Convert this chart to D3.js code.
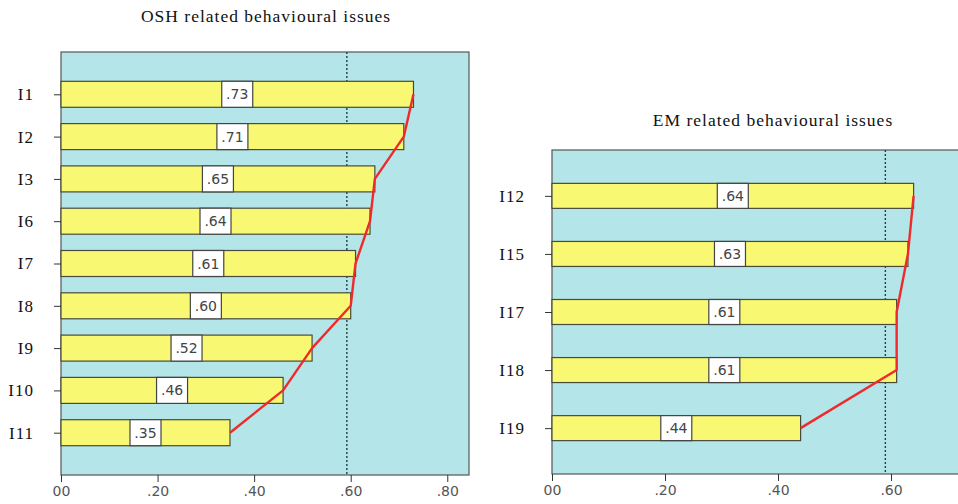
<!DOCTYPE html>
<html>
<head>
<meta charset="utf-8">
<script src="https://cdn.jsdelivr.net/npm/d3@7"></script>
<style>
  body { margin:0; background:#fff; }
  svg { display:block; }
  .item { font-family:"Liberation Serif","Times New Roman",serif; font-size:17px; fill:#111; letter-spacing:1px; }
  .title { font-family:"Liberation Serif","Times New Roman",serif; font-size:17.5px; fill:#111; letter-spacing:1px; }
  .tick-x { font-family:"DejaVu Sans",sans-serif; font-size:14px; fill:#555; }
  .val { font-family:"DejaVu Sans",sans-serif; font-size:14px; fill:#444; }
</style>
</head>
<body>
<svg id="chart" width="958" height="504"></svg>
<script>
// OSH panel
const oshItems = ["I1","I2","I3","I6","I7","I8","I9","I10","I11"];
const oshValues = [0.73,0.71,0.65,0.64,0.61,0.60,0.52,0.46,0.35];
const oshLabels = [".73",".71",".65",".64",".61",".60",".52",".46",".35"];
const oshTicks = [0,0.2,0.4,0.6,0.8];
const oshTickLabels = ["00",".20",".40",".60",".80"];
const oshCut = 0.592;

// EM panel
const emItems = ["I12","I15","I17","I18","I19"];
const emValues = [0.64,0.63,0.61,0.61,0.44];
const emLabels = [".64",".63",".61",".61",".44"];
const emTicks = [0,0.2,0.4,0.6];
const emTickLabels = ["00",".20",".40",".60"];
const emCut = 0.59;

const COLOR = {
  bg:"#b4e5e8",
  bar:"#f8f872",
  stroke:"#4a4a3a",
  line:"#f02a2a"
};

const svg = d3.select("#chart");

function panel(opt){
  const g = svg.append("g");
  const x = d3.scaleLinear().domain(opt.domain).range([opt.left, opt.right]);
  const y = d3.scalePoint().domain(opt.items).range([opt.top, opt.bottom]).padding(opt.pad);

  g.append("rect")
    .attr("x", opt.left).attr("y", opt.top)
    .attr("width", opt.right - opt.left).attr("height", opt.bottom - opt.top)
    .attr("fill", COLOR.bg)
    .attr("stroke", "#555").attr("stroke-width", 1.2);

  // dotted reference line
  g.append("line")
    .attr("x1", x(opt.cut)).attr("x2", x(opt.cut))
    .attr("y1", opt.top).attr("y2", opt.bottom)
    .attr("stroke", "#2a3a4a").attr("stroke-width", 1.4)
    .attr("stroke-dasharray", "2,2");

  const data = opt.items.map((k,i)=>({k, v:opt.values[i], lab:opt.labels[i]}));

  g.selectAll(".bar")
    .data(data)
    .join("rect")
    .attr("x", opt.left)
    .attr("y", d=>y(d.k) - opt.barH/2)
    .attr("width", d=>x(d.v) - opt.left)
    .attr("height", opt.barH)
    .attr("fill", COLOR.bar)
    .attr("stroke", COLOR.stroke)
    .attr("stroke-width", 1.2);

  // value boxes
  const bw = 31;
  const lg = g.selectAll(".lab")
    .data(data)
    .join("g")
    .attr("transform", d=>`translate(${(opt.left + x(d.v))/2},${y(d.k)})`);
  lg.append("rect")
    .attr("x", -bw/2).attr("y", -opt.barH/2)
    .attr("width", bw).attr("height", opt.barH)
    .attr("fill", "#fff")
    .attr("stroke", "#444").attr("stroke-width", 1.2);
  lg.append("text")
    .attr("class", "val")
    .attr("text-anchor", "middle")
    .attr("dy", "0.36em")
    .text(d=>d.lab);

  // red line through bar ends
  const line = d3.line()
    .x(d=>x(d.v))
    .y(d=>y(d.k));
  g.append("path")
    .datum(data)
    .attr("d", line)
    .attr("fill", "none")
    .attr("stroke", COLOR.line)
    .attr("stroke-width", 2.4)
    .attr("stroke-linejoin", "round");

  // left axis
  const ya = g.append("g")
    .attr("transform", `translate(${opt.left},0)`)
    .call(d3.axisLeft(y).tickSize(7).tickPadding(opt.labPad));
  ya.select(".domain").remove();
  ya.selectAll("line").attr("stroke", "#333");
  ya.selectAll("text").attr("class", "item").attr("fill", null);
  ya.attr("font-size", null).attr("font-family", null);

  // bottom axis
  const xa = g.append("g")
    .attr("transform", `translate(0,${opt.bottom})`)
    .call(d3.axisBottom(x).tickValues(opt.ticks).tickSize(7).tickPadding(4)
      .tickFormat((d,i)=>opt.tickLabels[i]));
  xa.select(".domain").remove();
  xa.selectAll("line").attr("stroke", "#333");
  xa.selectAll("text").attr("class", "tick-x").attr("fill", null);
  xa.attr("font-size", null).attr("font-family", null);

  g.append("text")
    .attr("class", "title")
    .attr("x", opt.titleX).attr("y", opt.titleY)
    .attr("text-anchor", "middle")
    .text(opt.title);
}

panel({
  items:oshItems, values:oshValues, labels:oshLabels,
  ticks:oshTicks, tickLabels:oshTickLabels, cut:oshCut,
  domain:[0,0.845], left:61, right:469, top:52, bottom:475,
  pad:1, barH:26, labPad:20,
  title:"OSH related behavioural issues", titleX:266, titleY:22
});

panel({
  items:emItems, values:emValues, labels:emLabels,
  ticks:emTicks, tickLabels:emTickLabels, cut:emCut,
  domain:[0,0.75], left:552, right:552 + 0.75*565, top:150, bottom:474,
  pad:0.79, barH:25, labPad:20,
  title:"EM related behavioural issues", titleX:773, titleY:126
});
</script>
</body>
</html>
